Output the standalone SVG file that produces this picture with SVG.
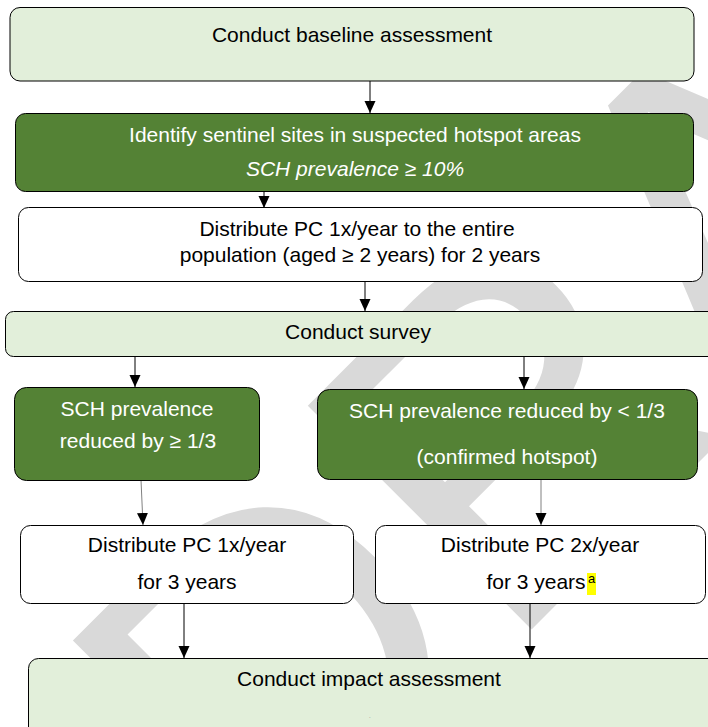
<svg xmlns="http://www.w3.org/2000/svg" width="708" height="727" viewBox="0 0 708 727">
  <defs>
    <marker id="ah" markerUnits="userSpaceOnUse" markerWidth="12" markerHeight="12" refX="12" refY="6" orient="auto">
      <path d="M0,0.5 L12,6 L0,11.5 z" fill="#000"/>
    </marker>
    <style>
      .t { font-family: "Liberation Sans", Arial, sans-serif; font-size: 21px; text-anchor: middle; fill: #000; }
      .w { fill: #ffffff; }
      .it { font-style: italic; }
      .light { fill: #e2efda; stroke: #000; stroke-width: 1; }
      .dark { fill: #548235; stroke: #000; stroke-width: 1; }
      .plain { fill: #ffffff; stroke: #000; stroke-width: 1; }
      .c { stroke: #000; stroke-width: 1; fill: none; marker-end: url(#ah); }
      .cg { stroke: #808080; stroke-width: 1; fill: none; marker-end: url(#ah); }
      .wm { font-family: "Liberation Sans", Arial, sans-serif; font-size: 460px; fill: #d9d9d9; }
    </style>
  </defs>

  <rect x="0" y="0" width="708" height="727" fill="#ffffff"/>

  <text class="wm" transform="translate(270 891) rotate(-45)">DRAFT</text>

  <g id="connectors">
    <line class="c" x1="370" y1="81" x2="370" y2="113"/>
    <line class="c" x1="264" y1="192" x2="264" y2="208"/>
    <line class="c" x1="365" y1="282" x2="365" y2="311"/>
    <line class="c" x1="135" y1="357" x2="135" y2="387"/>
    <line class="c" x1="524" y1="357" x2="524" y2="389"/>
    <line class="cg" x1="141" y1="480" x2="143" y2="525"/>
    <line class="cg" x1="541" y1="480" x2="541" y2="525"/>
    <line class="c" x1="184" y1="603" x2="184" y2="658"/>
    <line class="c" x1="530" y1="603" x2="530" y2="658"/>
  </g>

  <g id="baseline">
    <rect class="light" x="10" y="7.5" width="684" height="73.5" rx="10"/>
    <text class="t" x="352" y="42">Conduct baseline assessment</text>
  </g>

  <g id="sentinel">
    <rect class="dark" x="15.5" y="113.5" width="678" height="78" rx="10"/>
    <text class="t w" x="355" y="142">Identify sentinel sites in suspected hotspot areas</text>
    <text class="t w it" x="355" y="176">SCH prevalence ≥ 10%</text>
  </g>

  <g id="distribute2">
    <rect class="plain" x="18.5" y="207.5" width="684" height="74" rx="10"/>
    <text class="t" x="357" y="236">Distribute PC 1x/year to the entire</text>
    <text class="t" x="360" y="262">population (aged ≥ 2 years) for 2 years</text>
  </g>

  <g id="survey">
    <rect class="light" x="5.5" y="311.5" width="712" height="45" rx="8"/>
    <text class="t" x="358" y="339">Conduct survey</text>
  </g>

  <g id="reduced">
    <rect class="dark" x="14.5" y="387.5" width="245" height="93" rx="12"/>
    <text class="t w" x="137" y="416">SCH prevalence</text>
    <text class="t w" x="138" y="448">reduced by ≥ 1/3</text>
  </g>

  <g id="hotspot">
    <rect class="dark" x="317.5" y="389.5" width="380" height="90" rx="12"/>
    <text class="t w" x="507" y="418">SCH prevalence reduced by &lt; 1/3</text>
    <text class="t w" x="507" y="464">(confirmed hotspot)</text>
  </g>

  <g id="pc1x">
    <rect class="plain" x="20.5" y="525.5" width="333" height="78" rx="10"/>
    <text class="t" x="187" y="552">Distribute PC 1x/year</text>
    <text class="t" x="187" y="589">for 3 years</text>
  </g>

  <g id="pc2x">
    <rect class="plain" x="375.5" y="525.5" width="330" height="78" rx="10"/>
    <text class="t" x="540" y="552">Distribute PC 2x/year</text>
    <rect x="587" y="573" width="9" height="22" fill="#ffff00"/>
    <text class="t" x="536" y="589">for 3 years</text>
    <text x="588" y="583" style="font-family:'Liberation Sans', Arial, sans-serif; font-size:13px; fill:#000">a</text>
  </g>

  <g id="impact">
    <rect class="light" x="28.5" y="658.5" width="700" height="90" rx="10"/>
    <text class="t" x="369" y="686">Conduct impact assessment</text>
    <text x="369" y="718" style="font-family:'Liberation Sans', Arial, sans-serif; font-size:6px; fill:#777">.</text>
  </g>
</svg>
